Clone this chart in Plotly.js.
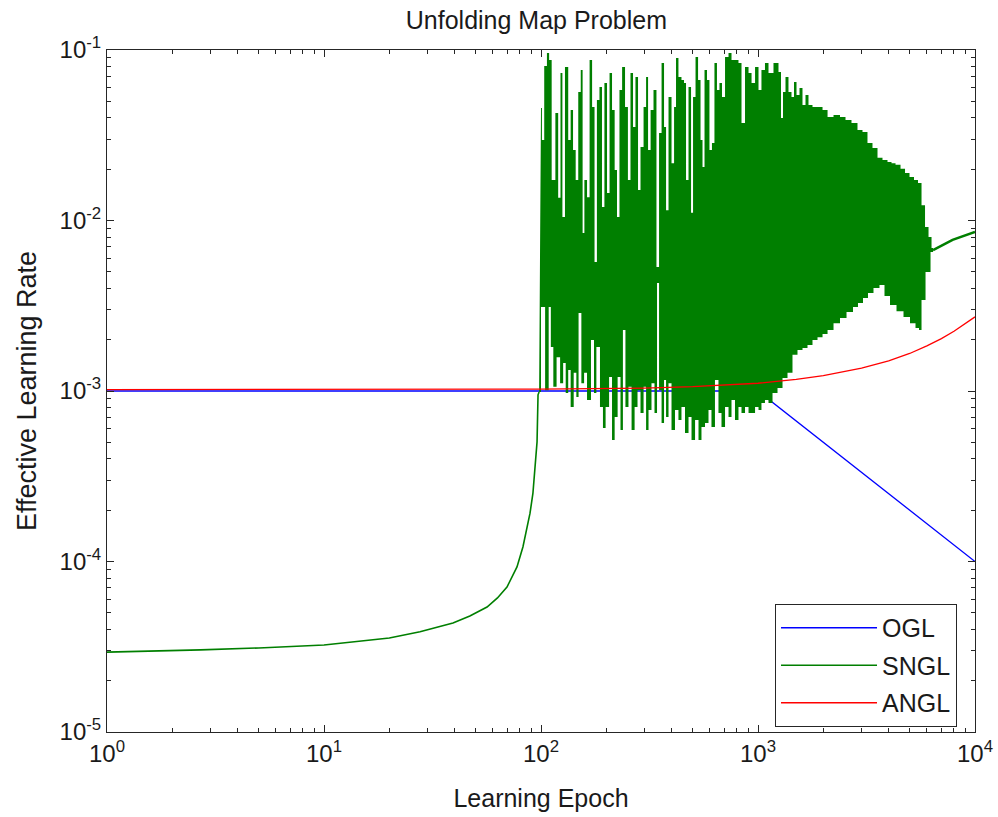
<!DOCTYPE html>
<html><head><meta charset="utf-8">
<script src="https://cdn.plot.ly/plotly-3.0.1.min.js"></script>
<style>html,body{margin:0;padding:0;background:#fff}</style>
</head><body><div id="chart" style="width:998px;height:817px"></div>
<script>
// ---- data ----
const ogl_epoch = [1, 1000, 10000];
const ogl_rate  = [1.0e-3, 1.0e-3, 1.0e-4];

const angl_epoch = [1, 100, 300, 500, 1000, 1500, 2000, 3000, 4000, 5000, 6000, 7000, 8000, 9000, 10000];
const angl_rate  = [1.02e-3, 1.025e-3, 1.04e-3, 1.06e-3, 1.11e-3, 1.17e-3, 1.23e-3, 1.36e-3, 1.50e-3, 1.66e-3, 1.84e-3, 2.03e-3, 2.24e-3, 2.47e-3, 2.72e-3];

const sngl_rise_epoch = [1, 1.6, 2.7, 5, 10, 20, 27.7, 39.3, 47, 56.4, 63, 69.7, 77.5, 82.6, 89, 91.8, 93.8, 95.9, 96.9, 98];
const sngl_rise_rate  = [2.94e-5, 2.97e-5, 3.03e-5, 3.11e-5, 3.24e-5, 3.56e-5, 3.87e-5, 4.36e-5, 4.79e-5, 5.41e-5, 6.11e-5, 7.08e-5, 9.29e-5, 1.22e-4, 1.92e-4, 2.52e-4, 3.44e-4, 5.03e-4, 9.5e-4, 9.86e-4];

// oscillating phase: upper (peaks) and lower (troughs) of the SNGL rate
const sngl_upper_epoch = [100,102,105,108,110,114,119,121,125,126,132,135,139,142,147,150,155,156,161,165,170,174,179,183,189,193,199,204,210,215,222,226,234,239,249,254,263,268,277,283,292,302,308,315,325,335,346,354,365,373,381,393,406,415,423,437,451,461,471,486,497,507,524,535,552,558,576,588,607,620,640,654,675,690,720,743,767,800,826,853,890,919,949,990,1021,1054,1100,1136,1223,1263,1290,1318,1360,1404,1450,1481,1529,1578,1629,1682,1736,1831,1931,2037,2148,2312,2465,2598,2799,2951,3112,3281,3461,3649,3848,4058,4190,4418,4659,4861,5124,5348,5579,5761,6011,6205,6406];
const sngl_upper_rate  = [0.0457,0.0297,0.0806,0.0960,0.0874,0.0173,0.0427,0.0136,0.0733,0.0105,0.0795,0.0297,0.0445,0.0259,0.0173,0.0567,0.0763,0.00845,0.0173,0.0137,0.0874,0.0463,0.00571,0.0509,0.0607,0.0120,0.0640,0.0145,0.0733,0.0445,0.0198,0.0105,0.0582,0.0795,0.0463,0.0173,0.0733,0.0353,0.0694,0.0151,0.0270,0.0463,0.0694,0.0259,0.0445,0.0582,0.00534,0.0326,0.0839,0.0353,0.0115,0.0530,0.0217,0.0463,0.0898,0.0694,0.0667,0.0640,0.0173,0.0607,0.0111,0.0530,0.0910,0.0667,0.0297,0.0206,0.0763,0.0667,0.0259,0.0285,0.0839,0.0582,0.0640,0.0530,0.0910,0.0960,0.0874,0.0874,0.0839,0.0373,0.0795,0.0733,0.0640,0.0795,0.0582,0.0763,0.0839,0.0733,0.0839,0.0743,0.0399,0.0567,0.0694,0.0567,0.0530,0.0649,0.0545,0.0598,0.0476,0.0545,0.0476,0.0463,0.0463,0.0445,0.0405,0.0416,0.0405,0.0389,0.0373,0.0340,0.0330,0.0285,0.0266,0.0233,0.0226,0.0220,0.0217,0.0212,0.0201,0.0190,0.0180,0.0173,0.0166,0.0123,0.00916,0.00800,0.00690];
const sngl_lower_epoch = [98,102,107,110,112,116,120,125,128,132,135,139,144,147,151,156,160,166,174,177,183,191,195,202,210,215,222,229,236,241,249,257,266,274,283,292,302,308,318,328,339,346,354,365,373,381,393,406,423,437,451,471,486,502,524,540,558,582,601,620,647,668,690,720,743,767,800,826,853,890,919,949,990,1021,1054,1100,1136,1198,1263,1332,1404,1481,1561,1647,1736,1831,1931,2037,2148,2312,2465,2655,2829,2951,3146,3281,3535,3727,3931,4190,4512,4861,5180,5462,5579,5761,6075,6406];
const sngl_lower_rate  = [0.000986,0.00311,0.00101,0.00311,0.00181,0.00106,0.00158,0.00111,0.00146,0.000973,0.00133,0.000806,0.00128,0.000922,0.00287,0.00111,0.00128,0.000885,0.00199,0.000973,0.00181,0.000806,0.000607,0.000806,0.00121,0.000516,0.000704,0.00121,0.000591,0.00228,0.000806,0.00106,0.000591,0.000806,0.00101,0.000743,0.00106,0.000591,0.000774,0.00111,0.000743,0.00430,0.00101,0.000649,0.00116,0.000704,0.00111,0.000591,0.000774,0.000676,0.000806,0.000567,0.000704,0.000516,0.000676,0.000516,0.000615,0.000649,0.000774,0.000615,0.00116,0.000743,0.000615,0.000806,0.000704,0.000885,0.000676,0.000806,0.000743,0.000806,0.000743,0.000743,0.000806,0.000774,0.000851,0.000885,0.000851,0.000973,0.00104,0.00119,0.00128,0.00163,0.00174,0.00179,0.00186,0.00199,0.00207,0.00216,0.00228,0.00250,0.00268,0.00291,0.00311,0.00328,0.00351,0.00376,0.00402,0.00418,0.00361,0.00319,0.00294,0.00272,0.00250,0.00234,0.00228,0.00342,0.00499,0.00654];

const sngl_tail_epoch = [6406, 7880, 10000];
const sngl_tail_rate  = [6.7e-3, 7.7e-3, 8.57e-3];

const x_tick_vals = [1, 10, 100, 1000, 10000];
const x_tick_text = ['10<sup>0</sup>','10<sup>1</sup>','10<sup>2</sup>','10<sup>3</sup>','10<sup>4</sup>'];
const y_tick_vals = [1e-5, 1e-4, 1e-3, 1e-2, 1e-1];
const y_tick_text = ['10<sup>-5</sup>','10<sup>-4</sup>','10<sup>-3</sup>','10<sup>-2</sup>','10<sup>-1</sup>'];

// ---- build ----
function minorVals(lo, hi){ const v=[]; for(let e=lo;e<hi;e++){ for(let d=2;d<=9;d++) v.push(d*Math.pow(10,e)); } return v; }
// each sample holds its value until halfway (on the log axis) to its neighbours
function steps(ep, val){
  const xs = [], ys = [];
  for (let i = 0; i < ep.length; i++){
    const l = i === 0 ? ep[0] : Math.sqrt(ep[i-1]*ep[i]);
    const r = i === ep.length-1 ? ep[i] : Math.sqrt(ep[i]*ep[i+1]);
    xs.push(l, r); ys.push(val[i], val[i]);
  }
  return [xs, ys];
}

const GREEN = '#007f00';
const FONT = 'Liberation Sans, Arial, Helvetica, sans-serif';
const AX = '#262626';
const TXT = '#1a1a1a';

const up = steps(sngl_upper_epoch, sngl_upper_rate);
const lo = steps(sngl_lower_epoch, sngl_lower_rate);
const bodyX = up[0].concat(lo[0].slice().reverse());
const bodyY = up[1].concat(lo[1].slice().reverse());

const traces = [
  {x: ogl_epoch, y: ogl_rate, name: 'OGL', mode: 'lines', legendgroup: 'ogl', line: {color: '#0000ff', width: 1.3}},
  {x: sngl_rise_epoch, y: sngl_rise_rate, name: 'SNGL', mode: 'lines', legendgroup: 'sngl', line: {color: GREEN, width: 1.6}},
  {x: bodyX, y: bodyY, name: 'SNGL', mode: 'none', legendgroup: 'sngl', showlegend: false, fill: 'toself', fillcolor: GREEN, line: {width: 0, simplify: false}},
  {x: sngl_tail_epoch, y: sngl_tail_rate, name: 'SNGL', mode: 'lines', legendgroup: 'sngl', showlegend: false, line: {color: GREEN, width: 2.6}},
  {x: angl_epoch, y: angl_rate, name: 'ANGL', mode: 'lines', legendgroup: 'angl', line: {color: '#ff0000', width: 1.3}}
];

const axisCommon = {
  type: 'log', showgrid: false, zeroline: false, showline: true, linecolor: AX, linewidth: 1,
  mirror: 'ticks', ticks: 'inside', ticklen: 7, tickwidth: 1, tickcolor: AX,
  tickmode: 'array', tickfont: {family: FONT, size: 24, color: TXT},
};

const layout = {
  width: 998, height: 817,
  margin: {l: 107, r: 23, t: 50, b: 85},
  paper_bgcolor: '#fff', plot_bgcolor: '#fff',
  font: {family: FONT, color: TXT},
  title: {text: 'Unfolding Map Problem', font: {family: FONT, size: 25, color: TXT}, x: 0.5375, xanchor: 'center', y: 0.975, yref: 'container', yanchor: 'middle'},
  xaxis: Object.assign({}, axisCommon, {
    range: [0, 4], tickvals: x_tick_vals, ticktext: x_tick_text,
    minor: {tickmode: 'array', tickvals: minorVals(0, 4), ticks: 'inside', ticklen: 4, tickcolor: AX, showgrid: false},
    title: {text: 'Learning Epoch', font: {family: FONT, size: 25, color: TXT}, standoff: 23}
  }),
  yaxis: Object.assign({}, axisCommon, {
    range: [-5, -1], tickvals: y_tick_vals, ticktext: y_tick_text,
    minor: {tickmode: 'array', tickvals: minorVals(-5, -1), ticks: 'inside', ticklen: 4, tickcolor: AX, showgrid: false},
    title: {text: 'Effective Learning Rate', font: {family: FONT, size: 27, color: TXT}, standoff: 15}
  }),
  showlegend: true,
  legend: {x: 0.7696, y: 0.1877, xanchor: 'left', yanchor: 'top', bgcolor: '#fff', bordercolor: AX, borderwidth: 1,
           font: {family: FONT, size: 25, color: TXT}, itemwidth: 96, tracegroupgap: 2}
};

Plotly.newPlot('chart', traces, layout, {staticPlot: true, displayModeBar: false});
</script></body></html>
